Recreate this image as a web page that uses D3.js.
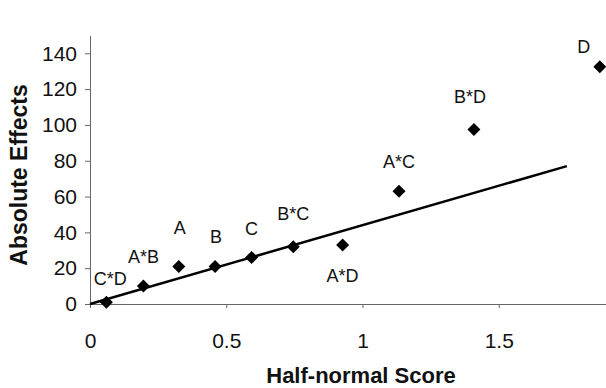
<!DOCTYPE html>
<html>
<head>
<meta charset="utf-8">
<script src="https://cdn.jsdelivr.net/npm/d3@7"></script>
<style>
  body { margin: 0; background: #fff; }
  svg { display: block; font-family: "Liberation Sans", Arial, sans-serif; }
</style>
</head>
<body>
<svg width="606" height="388"></svg>
<script>
// effects
const effectNames = ["C*D", "A*B", "A", "B", "C", "B*C", "A*D", "A*C", "B*D", "D"];
const halfNormalScores = [0.06, 0.196, 0.326, 0.459, 0.593, 0.746, 0.927, 1.134, 1.409, 1.871];
const absEffects = [1, 10, 21, 21, 26, 32, 33, 63, 97.5, 132.5];
const yTicks = [0, 20, 40, 60, 80, 100, 120, 140];
const xTicks = [0, 0.5, 1, 1.5];
// fitted reference line (through the origin)
const fitX = [0, 1.75];
const fitY = [0, 77];

// where each label sits relative to its marker (dx, dy to baseline)
const labelNudge = {
  "C*D": [4, -17], "A*B": [0, -23], "A": [1, -32], "B": [1, -23], "C": [0, -22],
  "B*C": [0, -27], "A*D": [0, 37], "A*C": [0, -23], "B*D": [-4, -26], "D": [-16, -14]
};

const svg = d3.select("svg");
const x = d3.scaleLinear().domain([0, 2]).range([90, 635]);
const y = d3.scaleLinear().domain([0, 150]).range([304, 35.4]);

// y axis
const yAxis = svg.append("g")
    .attr("transform", "translate(90,0)")
    .call(d3.axisLeft(y).tickValues(yTicks).tickSize(5).tickSizeOuter(0).tickPadding(8));
yAxis.select(".domain").attr("stroke", "#666");
yAxis.selectAll(".tick line").attr("stroke", "#666");
yAxis.selectAll("text").attr("font-size", 21).attr("fill", "#111")
    .attr("font-family", "Liberation Sans, Arial, sans-serif");

// x axis
const xAxis = svg.append("g")
    .attr("transform", "translate(0,304)")
    .call(d3.axisBottom(x).tickValues(xTicks).tickFormat(d => d).tickSize(4).tickSizeOuter(0).tickPadding(25));
xAxis.select(".domain").attr("stroke", "#666");
xAxis.selectAll(".tick line").attr("stroke", "#666");
xAxis.selectAll("text").attr("font-size", 21).attr("fill", "#111")
    .attr("font-family", "Liberation Sans, Arial, sans-serif");

// axis titles
svg.append("text")
    .attr("transform", "translate(27,175) rotate(-90)")
    .attr("text-anchor", "middle")
    .attr("font-size", 23).attr("font-weight", "bold").attr("fill", "#111")
    .text("Absolute Effects");

svg.append("text")
    .attr("x", 361).attr("y", 383)
    .attr("text-anchor", "middle")
    .attr("font-size", 22).attr("font-weight", "bold").attr("fill", "#111")
    .text("Half-normal Score");

// fitted line
svg.append("line")
    .attr("x1", x(fitX[0])).attr("y1", y(fitY[0]))
    .attr("x2", x(fitX[1])).attr("y2", y(fitY[1]))
    .attr("stroke", "#000").attr("stroke-width", 2.5);

const pts = effectNames.map((n, i) => ({ name: n, hx: halfNormalScores[i], e: absEffects[i] }));

// diamond markers
svg.selectAll("path.pt")
    .data(pts)
    .enter().append("path")
    .attr("class", "pt")
    .attr("d", "M0,-6.5L6.5,0L0,6.5L-6.5,0Z")
    .attr("transform", d => `translate(${x(d.hx)},${y(d.e)})`)
    .attr("fill", "#000");

// point labels
svg.selectAll("text.lbl")
    .data(pts)
    .enter().append("text")
    .attr("class", "lbl")
    .attr("x", d => x(d.hx) + labelNudge[d.name][0])
    .attr("y", d => y(d.e) + labelNudge[d.name][1])
    .attr("text-anchor", "middle")
    .attr("font-size", 18).attr("fill", "#111")
    .text(d => d.name);
</script>
</body>
</html>
